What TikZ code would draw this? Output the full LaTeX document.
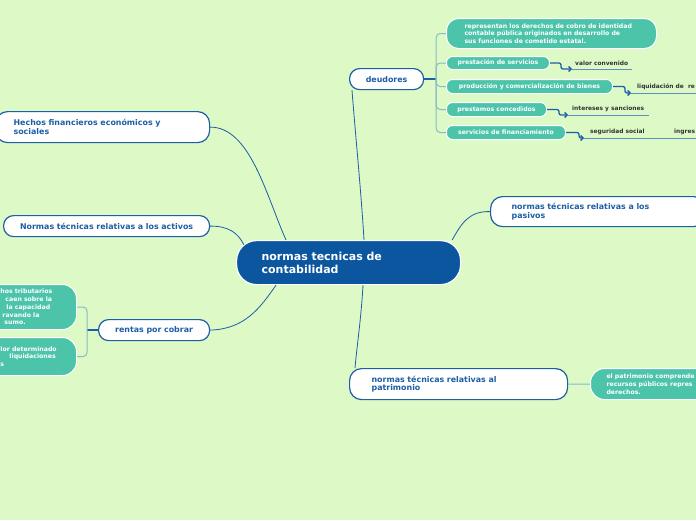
\documentclass[tikz,border=0pt]{standalone}
\usepackage{fontspec}
\setmainfont{DejaVu Sans}
\usepackage{tikz}
\usetikzlibrary{positioning,arrows.meta}
\definecolor{paper}{HTML}{DCF9C6}
\definecolor{navy}{HTML}{0C56A0}
\definecolor{edge}{HTML}{1D5EA6}
\definecolor{mint}{HTML}{4CC4A9}
\definecolor{twig}{HTML}{8DBAC6}
\definecolor{ink}{HTML}{333333}
\tikzset{
  root/.style={rectangle, rounded corners=20pt, fill=navy, draw=white, line width=1.2pt, text=white,
               font=\bfseries\fontsize{11}{13}\selectfont, align=left, anchor=north west, inner ysep=0pt},
  topic/.style={rectangle, rounded corners=10pt, fill=white, draw=edge, line width=1.2pt, text=edge,
                font=\bfseries\fontsize{7.9}{8.8}\selectfont, anchor=north west, inner ysep=0pt},
  sub/.style={rectangle, rounded corners=6pt, fill=mint, draw=white, line width=1pt, text=white,
              font=\bfseries\fontsize{6.2}{7.8}\selectfont, anchor=north west, align=left, inner ysep=0pt},
  leaf/.style={font=\bfseries\fontsize{5.9}{6.5}\selectfont, text=ink, anchor=south west, inner ysep=3pt},
  link/.style={draw=edge, line width=0.8pt},
  stem/.style={draw=edge, line width=1.3pt},
  brk/.style={draw=twig, line width=1pt, rounded corners=4pt},
  hop/.style={draw=edge, line width=1.3pt, rounded corners=2pt, -{Straight Barb[length=2.5pt,width=5pt]}},
  uline/.style={draw=edge!70, line width=0.6pt},
}

\begin{document}
\begin{tikzpicture}[x=1pt,y=-1pt]
  \fill[paper] (0,0) rectangle (696,520);
  \useasboundingbox (0,0) rectangle (696,520);

  % centre and main topics
  \node[root, minimum width=224pt, minimum height=44pt, text width=174pt, inner xsep=25pt] (ctr) at (236,240) {normas tecnicas de\\contabilidad};
  \node[topic, minimum width=74pt, minimum height=21pt, text width=66pt, inner xsep=4pt, align=center] (deud) at (349,68) {deudores};
  \node[topic, rounded corners=12pt, minimum width=214pt, minimum height=31pt, text width=178pt, inner xsep=18pt, align=left] (hechos) at (-5,111) {Hechos financieros económicos y\\sociales};
  \node[topic, minimum width=206pt, minimum height=21pt, text width=198pt, inner xsep=4pt, align=center] (activos) at (3,215) {Normas técnicas relativas a los activos};
  \node[topic, minimum width=111pt, minimum height=21pt, text width=103pt, inner xsep=4pt, align=center] (rentas) at (98,319) {rentas por cobrar};
  \node[topic, rounded corners=12pt, minimum width=215pt, minimum height=30pt, text width=173pt, inner xsep=21pt, align=left] (pasivos) at (490,196) {normas técnicas relativas a los\\pasivos};
  \node[topic, rounded corners=12pt, minimum width=218pt, minimum height=31pt, text width=174pt, inner xsep=22pt, align=left] (patr) at (349,368) {normas técnicas relativas al\\patrimonio};

  % deudores branch
  \node[sub, rounded corners=12pt, minimum width=210pt, minimum height=30pt, text width=178pt, inner xsep=16pt] (rep) at (446,18) {\hspace*{2pt}representan los derechos de cobro de identidad\\\hspace*{2pt}contable pública originados en desarrollo de\\\hspace*{2pt}sus funciones de cometido estatal.};
  \node[sub, minimum width=103pt, minimum height=13pt, inner xsep=10pt] (prest) at (446,56) {prestación de servicios};
  \node[sub, minimum width=166pt, minimum height=14pt, inner xsep=10pt] (prod) at (446,79) {producción y comercialización de bienes};
  \node[sub, minimum width=100pt, minimum height=14pt, inner xsep=10pt] (pres2) at (446,102) {prestamos concedidos};
  \node[sub, minimum width=119pt, minimum height=14pt, inner xsep=10pt] (fin) at (446,125) {servicios de financiamiento};

  \node[leaf, inner xsep=3pt] (vc) at (572,69) {\makebox[54pt][l]{valor convenido}};
  \node[leaf, inner xsep=6pt] (liq) at (631,93) {\makebox[80pt][l]{liquidación de\ \ re}};
  \node[leaf, inner xsep=4pt] (int) at (568,115) {\makebox[73pt][l]{intereses y sanciones}};
  \node[leaf, inner xsep=6pt] (seg) at (584,138) {\makebox[84pt][l]{seguridad social}\makebox[40pt][l]{ingres}};

  % rentas branch
  \node[sub, rounded corners=14pt, minimum width=106pt, minimum height=45pt, text width=90pt, inner xsep=8pt] (lt1) at (-30,284) {\hspace*{22pt}hos tributarios\\\hspace*{27pt}caen sobre la\\\hspace*{28pt}la capacidad\\\hspace*{24pt}ravando la\\\hspace*{26pt}sumo.};
  \node[sub, rounded corners=14pt, minimum width=106pt, minimum height=38pt, text width=90pt, inner xsep=8pt] (lt2) at (-30,337) {\hspace*{22pt}lor determinado\\\hspace*{31pt}liquidaciones\\\hspace*{22pt}s};

  % patrimonio branch
  \node[sub, rounded corners=14pt, minimum width=120pt, minimum height=31pt, inner xsep=16pt] (pt) at (590,368) {el patrimonio comprende\\recursos públicos repres\\derechos.};

  % connectors from the centre
  \draw[link] (hechos.east) .. controls (250,127) and (266,195) .. ([shift={(50,0)}]ctr.north west);
  \draw[link] (activos.east) .. controls (229,226) and (238,233) .. ([shift={(8,5)}]ctr.north west);
  \draw[link] (rentas.east) .. controls (245,329) and (260,308) .. ([shift={(40,0)}]ctr.south west);
  \draw[link] ([shift={(128,0)}]ctr.north west) .. controls (361,190) and (355,130) .. ([shift={(3,0)}]deud.south west);
  \draw[link] ([shift={(127,0)}]ctr.south west) .. controls (361,320) and (357,345) .. ([shift={(6,0)}]patr.north west);
  \draw[link] ([shift={(-9,0)}]ctr.north east) .. controls (462,222) and (470,211) .. (pasivos.west);

  % brackets
  \coordinate (dj) at ([shift={(12,0)}]deud.east);
  \draw[stem] (deud.east) -- (dj);
  \draw[brk] (dj) |- (rep.west);
  \draw[brk] (dj) |- (prest.west);
  \draw[brk] (dj) |- (prod.west);
  \draw[brk] (dj) |- (pres2.west);
  \draw[brk] (dj) |- (fin.west);

  \coordinate (rj) at ([shift={(-11,0)}]rentas.west);
  \draw[stem] (rentas.west) -- (rj);
  \draw[brk] (rj) |- (lt1.east);
  \draw[brk] (rj) |- (lt2.east);

  \draw[brk] (patr.east) -- (pt.west);

  % steps to the leaves
  \draw[hop] (prest.east) -- ++(11,0) |- (vc.south west);
  \draw[hop] (prod.east) -- ++(12,0) |- (liq.south west);
  \draw[hop] (pres2.east) -- ++(12,0) |- (int.south west);
  \draw[hop] (fin.east) -- ++(13,0) |- (seg.south west);
  \draw[uline] (vc.south west) -- (vc.south east);
  \draw[uline] (liq.south west) -- (liq.south east);
  \draw[uline] (int.south west) -- (int.south east);
  \draw[uline] (seg.south west) -- (seg.south east);
\end{tikzpicture}
\end{document}
